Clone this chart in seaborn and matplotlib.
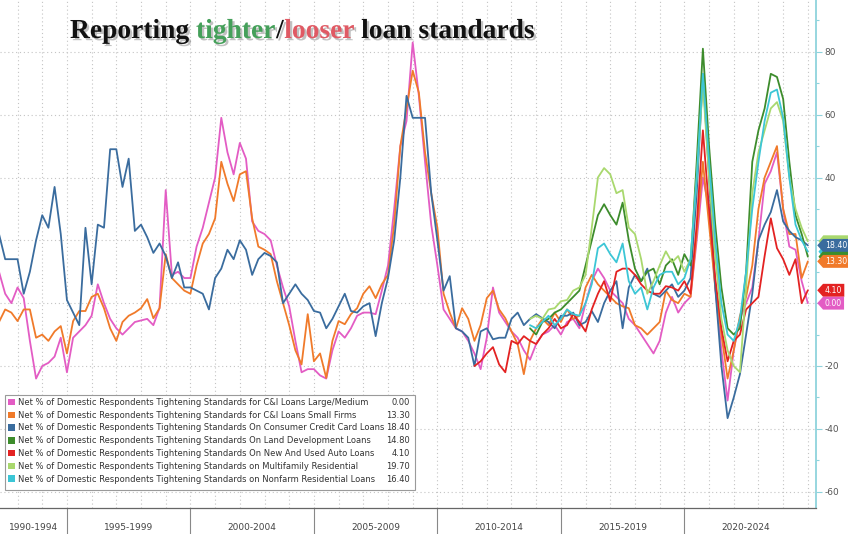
import numpy as np
import pandas as pd
import matplotlib
matplotlib.use("Agg")
import matplotlib.pyplot as plt
import matplotlib.patheffects as pe
import matplotlib.transforms as mtransforms
from matplotlib.patches import Patch, Rectangle, Polygon
from matplotlib.path import Path
from matplotlib.ticker import MultipleLocator
import seaborn as sns

# ---------------- data (net % of respondents tightening) ----------------
ci_large_start = "1992Q2"
ci_large = [10, 3, 0, 5, 1.6, -12, -24, -20, -19, -17,
            -11, -22, -11, -9, -7, -4, 6, 0, -5, -8,
            -10, -8, -6, -5.5, -5, -7, -1.5, 36, 9, 10,
            8, 8, 18, 24, 32, 40, 59, 48, 41, 51,
            46, 26, 23, 22, 20, 12, 5, -1, -12, -22,
            -21, -21, -23, -24, -15, -9, -11, -8, -4, -3,
            -3, -3.5, 4, 12, 30, 50, 58, 83, 66, 45,
            25, 12, -2, -5, -8, -9, -12, -16, -21, -11,
            5, -3, -6, -9, -11, -15, -18, -13, -10, -9,
            -7, -10, -6, -5, -8, 0, 7, 11, 8, 4,
            2, 0, -5, -7, -10, -13, -16, -12, -3, 2,
            -3, 0, 2, 20, 40, 30, 5, -15, -31, -15,
            -5, 0, 5, 20, 38, 42, 48, 30, 18, 17,
            7, 0.0]

ci_small_start = "1992Q2"
ci_small = [-6, -2, -3, -5.7, -2, -2, -11, -10, -12, -9,
            -7.3, -16, -5.7, -2.5, -2.5, 2, 3, -1.6, -8, -12,
            -6, -4, -3, -1.6, 1.3, -4.8, -1.6, 15.6, 8, 6,
            4, 3, 12, 19, 22, 27, 45, 38, 32.5, 41,
            42, 27, 18, 17, 15.6, 7, 0, -7, -15, -19.5,
            -3.5, -18.5, -16, -23.8, -12, -5.7, -6.7, -3.5, -1.6, 3,
            5.4, 1.6, 6, 9, 25, 50, 62, 74, 67, 48,
            35, 24, 3, -3, -8, -1.6, -5, -12, -7, 1.6,
            4, -2, -4.8, -9, -13, -22.6, -12, -8, -5, -7,
            -3, -6, -2, -5, -4, 5, 9, 6, 4, 2,
            0, -1, -1.6, -7, -8, -10, -8, -6, 4, 1,
            0, 3, 2, 22, 45, 25, 5, -10, -24, -15,
            -4, 2, 12, 30, 40, 45, 50, 30, 22, 22,
            8, 13.3]

credit_card_start = "1992Q2"
credit_card = [22, 14, 14, 14, 3, 10, 20, 28, 24, 37,
               22, 1, -3, -7, 24, 6, 25, 24, 49, 49,
               37, 46, 23, 25, 21, 16, 19, 15, 8, 13,
               5, 5, 4, 3, -2, 8, 11, 17, 14, 20,
               17, 9, 14, 16, 15, 13, 0, 3, 6, 3,
               1, -2.5, -3, -8, -5, -1, 3, -2.5, -3, -1,
               0, -10.5, 0, 8, 20, 40, 66, 59, 59, 59,
               35, 20, 4, 8.6, -8, -9, -11, -20, -9, -8,
               -11.5, -11, -11, -5, -3, -7, -5, -3.5, -4.8, -6,
               -8, -4, -4, -3, -7, -6, -2.5, -6, 0, 4,
               7, -8, 5, 9, 7, 11, 3, 2, 4, 6,
               2, 4, 8, 35, 73, 40, 5, -20, -36.6, -30,
               -22.6, -10, 3, 20, 25, 29, 36, 26, 23, 21,
               20, 18.4]

land_dev_start = "2013Q4"
land_dev = [-8, -10, -6, -5, -3, -2, 0, 2, 4, 12,
            20, 28, 31.5, 28, 25, 32, 20, 11, 7, 10,
            11, 6, 12, 14, 9, 15.6, 12, 45, 81, 50,
            25, 5, -8, -10, -8, 10, 45, 55, 62, 73,
            72, 65, 45, 28, 22, 14.8]

auto_start = "2011Q3"
auto = [-20, -18.5, -16, -14, -19.5, -22, -12, -13, -10.5, -12,
        -13, -10, -8, -5, -8, -7, -3.5, -6, -9, -2,
        3, 7, 0.6, 10, 11, 11, 9, 6, 4, 3,
        3, 5.4, 5, 4, 7, 3, 25, 55, 30, 8,
        -8, -18.5, -12, -10, -2, 0, 2, 15, 27, 17.5,
        14, 9, 14, 0, 4.1]

multifamily_start = "2013Q4"
multifamily = [-5, -4, -5, -2, -1.6, 0.6, 1, 4, 5, 9,
               24, 40, 43, 41, 35, 36, 24, 22, 14, 3,
               7, 12, 16.5, 13, 15, 10, 14, 40, 70, 40,
               15, -5, -15, -20, -22, 5, 35, 48, 55, 62,
               64, 58, 40, 30, 24, 19.7]

nonfarm_start = "2013Q4"
nonfarm = [-7, -8, -6, -4, -7, -5, -2, -3.5, -4, 0,
           6, 17.5, 19, 15.6, 13, 19, 7, 3, 5, -2,
           5, 9, 10, 10, 6, 8, 14, 40, 73, 45,
           20, 0, -10, -12, -5, 10, 30, 45, 58, 67,
           68, 59, 40, 25, 20, 16.4]

series_names = [
    "Net % of Domestic Respondents Tightening Standards for C&I Loans Large/Medium",
    "Net % of Domestic Respondents Tightening Standards for C&I Loans Small Firms",
    "Net % of Domestic Respondents Tightening Standards On Consumer Credit Card Loans",
    "Net % of Domestic Respondents Tightening Standards On Land Development Loans",
    "Net % of Domestic Respondents Tightening Standards On New And Used Auto Loans",
    "Net % of Domestic Respondents Tightening Standards on Multifamily Residential",
    "Net % of Domestic Respondents Tightening Standards on Nonfarm Residential Loans",
]
series_values = [ci_large, ci_small, credit_card, land_dev, auto, multifamily, nonfarm]
series_starts = [ci_large_start, ci_small_start, credit_card_start, land_dev_start,
                 auto_start, multifamily_start, nonfarm_start]
series_colors = ["#e35cc4", "#f07a2a", "#3a6c9e", "#3d8c2c", "#e32222", "#a9d86e", "#3cc6d6"]

period_labels = ["1990-1994", "1995-1999", "2000-2004", "2005-2009",
                 "2010-2014", "2015-2019", "2020-2024"]
y_ticks = [-60, -40, -20, 0, 20, 40, 60, 80]

title_parts = ["Reporting", "tighter", "/", "looser", "loan standards"]
title_colors = ["#111111", "#45a05a", "#111111", "#e05a64", "#111111"]
title_gaps = [True, False, False, True, False]

# tags stacked underneath others on the right axis (only a sliver shows)
hidden_tags = [5, 6, 3]
visible_tags = [2, 1, 4, 0]

# ---------------- figure ----------------
sns.set_style("white")
plt.rcParams["font.family"] = ["DejaVu Sans"]

W, H = 848, 534
fig = plt.figure(figsize=(W / 100, H / 100), dpi=100)
ax_left, ax_bottom, ax_w, ax_h = 0, 26, 816, 508
ax = fig.add_axes([ax_left / W, ax_bottom / H, ax_w / W, ax_h / H])


def quarter_time(start, n):
    p = pd.period_range(start, periods=n, freq="Q")
    return np.asarray(p.year + (p.quarter - 1) / 4.0, dtype=float)


for vals, start, col in zip(series_values, series_starts, series_colors):
    t = quarter_time(start, len(vals))
    sns.lineplot(x=t, y=np.asarray(vals, dtype=float), ax=ax, color=col,
                 linewidth=1.3, legend=False, sort=False, zorder=2)

x0, x1 = 1992.29, 2025.33
ax.set_xlim(x0, x1)
ax.set_ylim(-65.2, 96.5)

# axes styling
for s in ["left", "top"]:
    ax.spines[s].set_visible(False)
ax.spines["right"].set_color("#8fd3dc")
ax.spines["right"].set_linewidth(1.3)
ax.spines["bottom"].set_color("#666666")
ax.spines["bottom"].set_linewidth(0.9)

ax.yaxis.tick_right()
ax.set_yticks(y_ticks)
# labels covered by the end-value tags are not visible
covered = [v for k in visible_tags for v in [series_values[k][-1]]]
ax.set_yticklabels([("" if any(abs(tk - c) < 4 for c in covered) else str(tk))
                    for tk in y_ticks])
ax.yaxis.set_minor_locator(MultipleLocator(10))
ax.tick_params(axis="y", which="major", direction="out", length=4, width=0.8,
               color="#8fd3dc", labelsize=6.5, labelcolor="#555555", pad=2)
ax.tick_params(axis="y", which="minor", direction="out", length=2, width=0.8,
               color="#8fd3dc")

ax.xaxis.set_major_locator(MultipleLocator(1))
ax.xaxis.set_minor_locator(MultipleLocator(0.5))
ax.tick_params(axis="x", which="major", direction="inout", length=5, width=0.7,
               color="#666666", labelbottom=False)
ax.tick_params(axis="x", which="minor", direction="inout", length=3, width=0.6,
               color="#666666")
ax.set_xlabel("")
ax.set_ylabel("")

ax.grid(True, which="major", axis="both", color="#c4c4c4",
        linestyle=(0, (1, 2.5)), linewidth=0.8)
ax.set_axisbelow(True)

# period separators and labels below the axis
blend_x = mtransforms.blended_transform_factory(ax.transData, ax.transAxes)
for lab in period_labels:
    a, b = [int(v) for v in lab.split("-")]
    if a > x0:
        ax.plot([a, a], [0, -ax_bottom / ax_h], transform=blend_x, color="#888888",
                linewidth=0.8, clip_on=False)
    lo, hi = max(a, x0), min(b + 1, x1)
    ax.text((lo + hi) / 2, -19 / ax_h, lab, transform=blend_x, ha="center",
            va="center", fontsize=6.5, color="#444444")

# legend (frame drawn separately so the value column fits inside)
frame = Rectangle((5 / ax_w, (534 - 490 - ax_bottom) / ax_h),
                  410 / ax_w, 95 / ax_h, transform=ax.transAxes,
                  facecolor="white", edgecolor="#9a9a9a", linewidth=0.8, zorder=4)
ax.add_patch(frame)
handles = [Patch(facecolor=c, edgecolor="none") for c in series_colors]
leg = ax.legend(handles, series_names, loc="upper left",
                bbox_to_anchor=(8 / ax_w, (534 - 398 - ax_bottom) / ax_h),
                frameon=False, fontsize=6.0, handlelength=0.85, handleheight=0.85,
                handletextpad=0.4, labelspacing=0.45, borderaxespad=0, borderpad=0)
leg.set_zorder(5)
for txt in leg.get_texts():
    txt.set_color("#333333")

# end-value tags on the right axis
def tag_box(x0b, y0b, width, height, mutation_size):
    pad = 0.25 * mutation_size
    xa, ya = x0b - pad, y0b - pad
    w, h = width + 2 * pad, height + 2 * pad
    tip = h * 0.45
    verts = [(xa - tip, ya + h / 2), (xa, ya), (xa + w, ya), (xa + w, ya + h),
             (xa, ya + h), (xa - tip, ya + h / 2)]
    return Path(verts, closed=True)

blend_y = mtransforms.blended_transform_factory(ax.transAxes, ax.transData)
tag_h = 1.9  # half height of a tag in data units
for k in hidden_tags:
    v = series_values[k][-1]
    ax.add_patch(Polygon([(1.003, v), (1.009, v + tag_h), (1.045, v + tag_h),
                          (1.045, v - tag_h), (1.009, v - tag_h)], closed=True,
                         transform=blend_y, facecolor=series_colors[k],
                         edgecolor="none", clip_on=False, zorder=5))
for k in visible_tags:
    v = series_values[k][-1]
    ax.text(1.011, v, f"{v:.2f}", transform=blend_y, ha="left", va="center",
            fontsize=5.6, color="white", clip_on=False, zorder=6,
            bbox=dict(boxstyle=tag_box, facecolor=series_colors[k],
                      edgecolor="none"))

# title with coloured words
fig.canvas.draw()
renderer = fig.canvas.get_renderer()
probe1 = fig.text(0, 0, "x x", fontsize=19.8, family="Liberation Serif", weight="bold")
probe2 = fig.text(0, 0, "xx", fontsize=19.8, family="Liberation Serif", weight="bold")
space_w = (probe1.get_window_extent(renderer).width
           - probe2.get_window_extent(renderer).width)
probe1.remove()
probe2.remove()

xpos = 70.0
ybase = 1 - 38 / H
for part, col, gap in zip(title_parts, title_colors, title_gaps):
    t = fig.text(xpos / W, ybase, part, fontsize=19.8, family="Liberation Serif",
                 weight="bold", color=col, va="baseline", ha="left", zorder=10,
                 path_effects=[pe.withSimplePatchShadow(offset=(1.6, -1.6),
                                                        shadow_rgbFace="#777777",
                                                        alpha=0.45)])
    bb = t.get_window_extent(renderer)
    xpos = bb.x1 + (space_w if gap else 0.5)

# values column inside the legend
fig.canvas.draw()
inv = ax.transAxes.inverted()
for txt, vals in zip(leg.get_texts(), series_values):
    bb = txt.get_window_extent(renderer)
    yc = inv.transform((0, (bb.y0 + bb.y1) / 2))[1]
    ax.text(410 / ax_w, yc, f"{vals[-1]:.2f}", transform=ax.transAxes, ha="right",
            va="center", fontsize=6.0, color="#333333", zorder=6)

fig.savefig("out.png", dpi=100, facecolor="white")
